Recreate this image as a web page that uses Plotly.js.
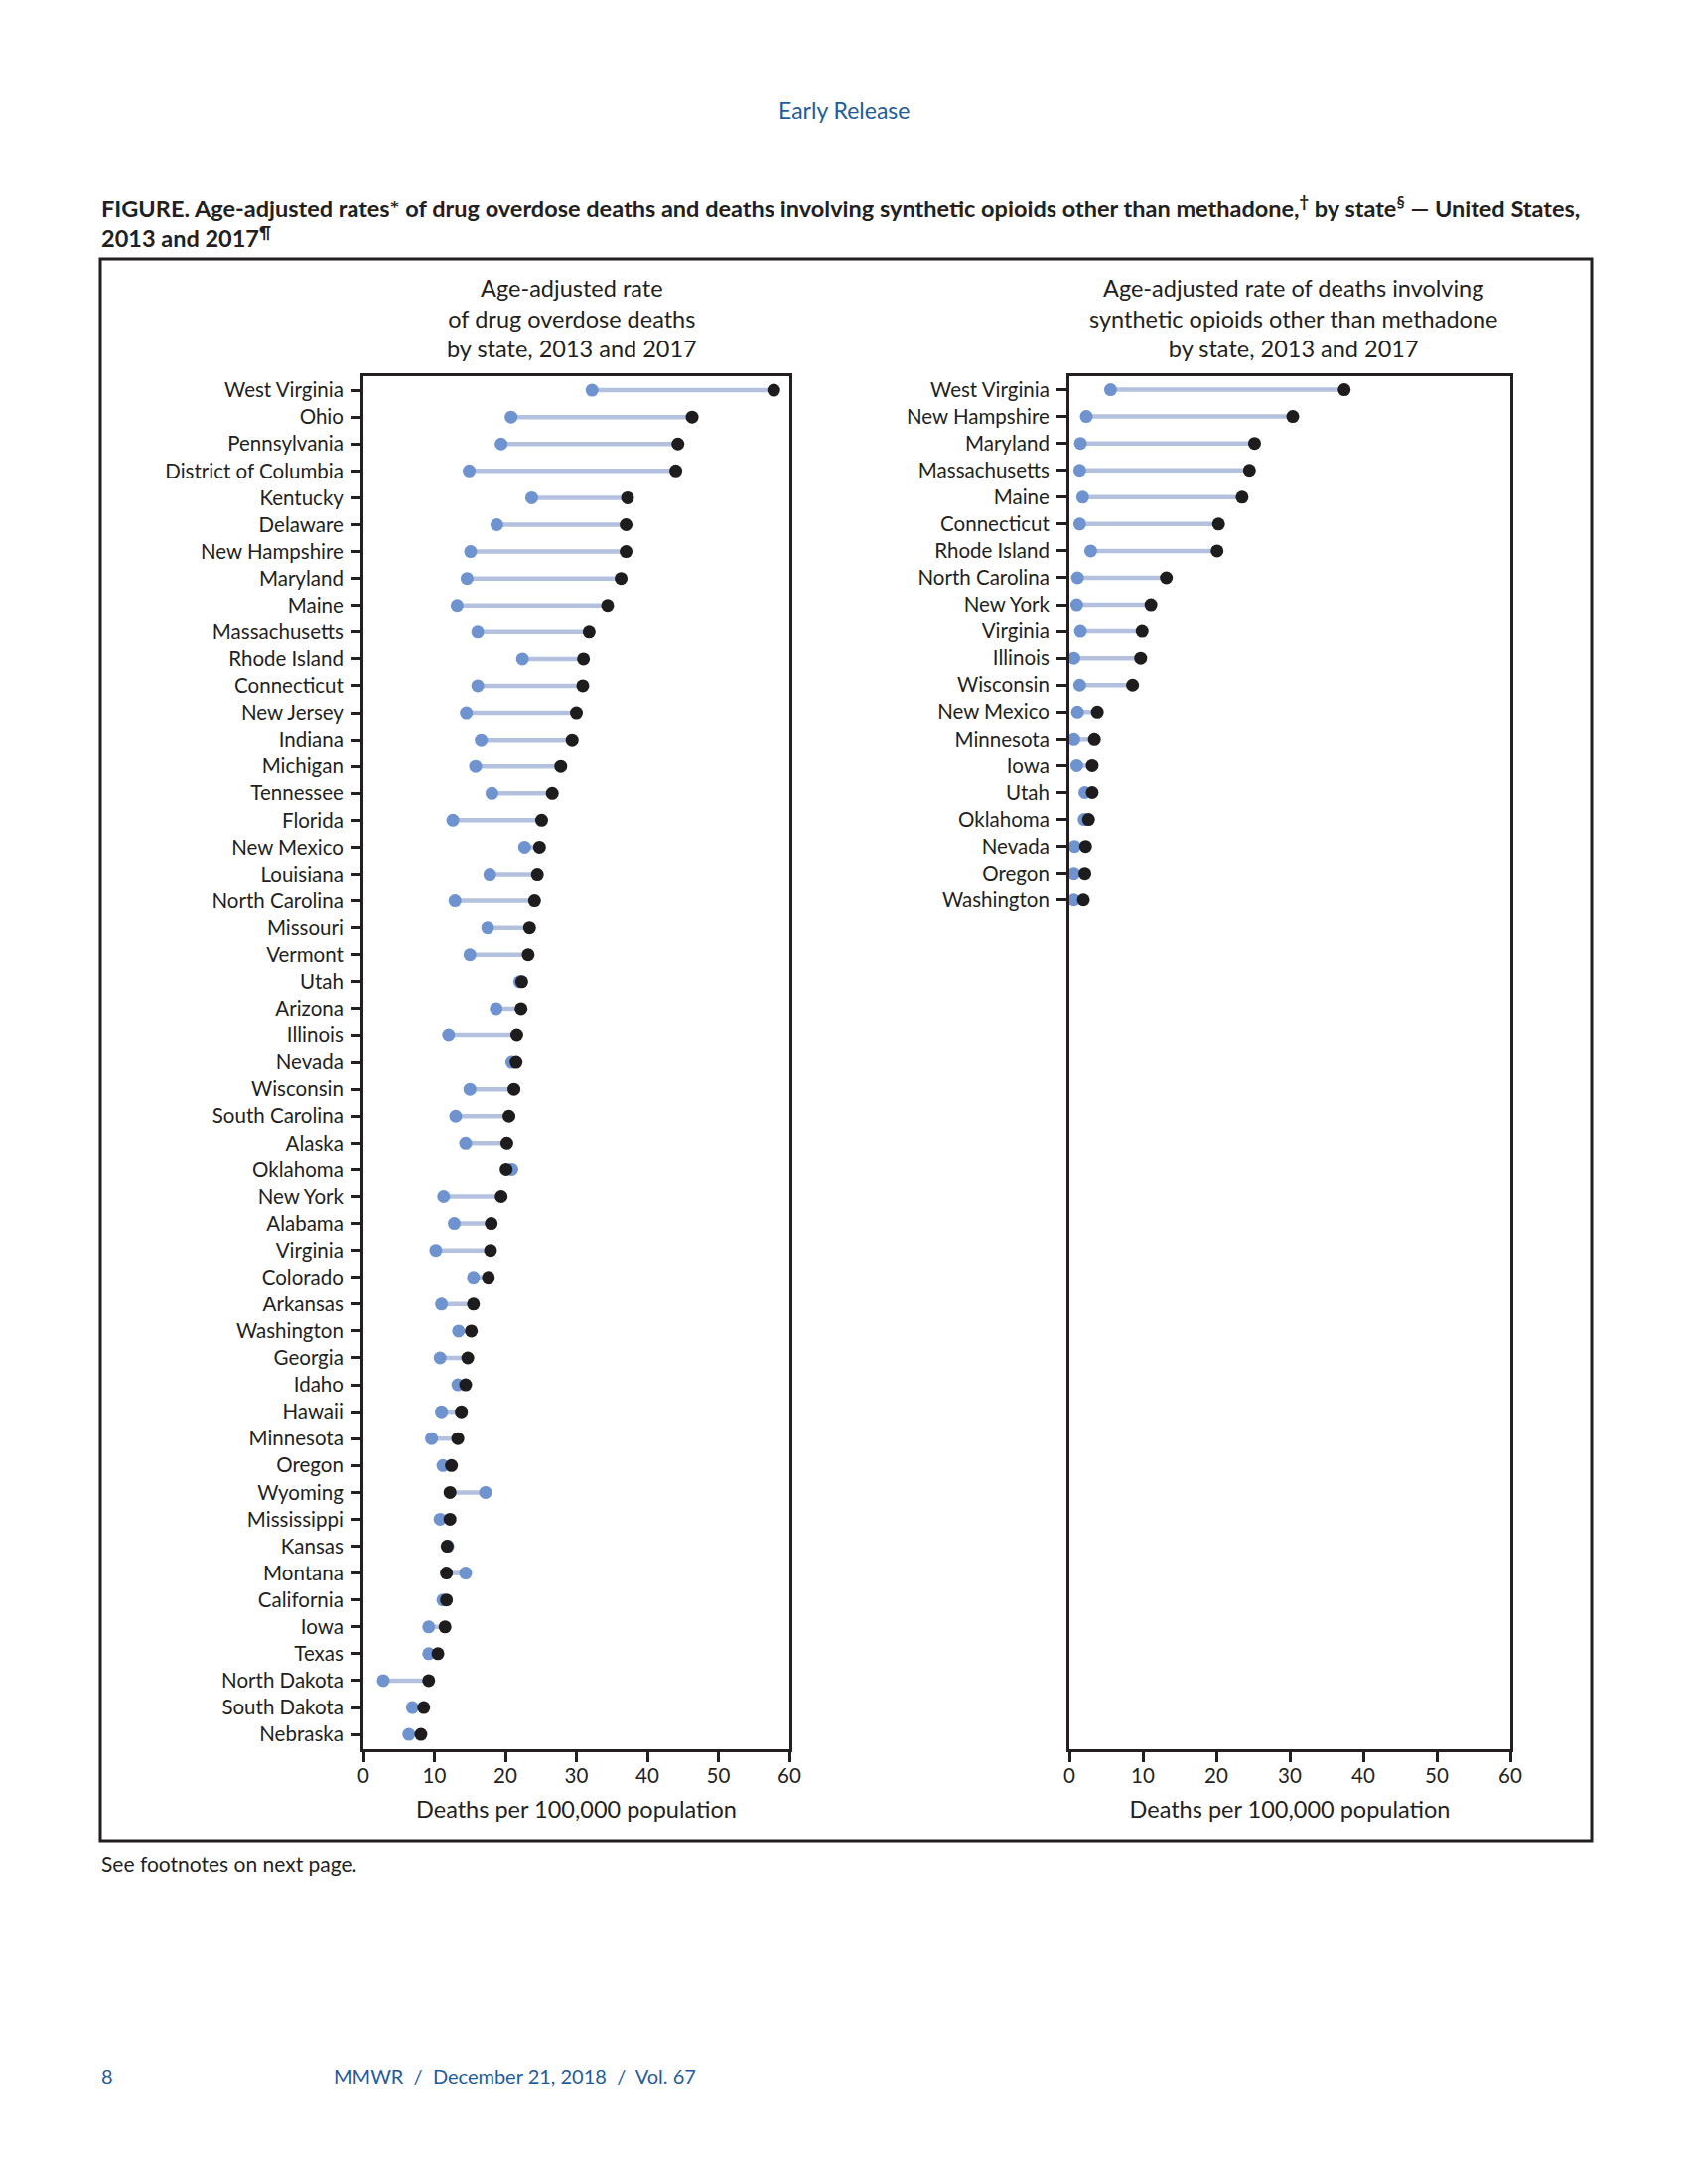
<!DOCTYPE html>
<html>
<head>
<meta charset="utf-8">
<script src="https://cdn.plot.ly/plotly-3.0.1.min.js"></script>
<style>html,body{margin:0;padding:0;background:#fff;}#chart{width:1700px;height:2200px;}</style>
</head>
<body>
<div id="chart"></div>
<script>
// ---- Left panel: all drug overdose deaths ----
const statesAll = ["West Virginia","Ohio","Pennsylvania","District of Columbia","Kentucky","Delaware","New Hampshire","Maryland","Maine","Massachusetts","Rhode Island","Connecticut","New Jersey","Indiana","Michigan","Tennessee","Florida","New Mexico","Louisiana","North Carolina","Missouri","Vermont","Utah","Arizona","Illinois","Nevada","Wisconsin","South Carolina","Alaska","Oklahoma","New York","Alabama","Virginia","Colorado","Arkansas","Washington","Georgia","Idaho","Hawaii","Minnesota","Oregon","Wyoming","Mississippi","Kansas","Montana","California","Iowa","Texas","North Dakota","South Dakota","Nebraska"];
const all2013 = [32.2,20.8,19.4,14.9,23.7,18.8,15.1,14.6,13.2,16.1,22.4,16.1,14.5,16.6,15.8,18.1,12.6,22.7,17.8,12.9,17.5,15.0,22.0,18.7,12.0,20.9,15.0,13.0,14.4,20.9,11.3,12.8,10.2,15.5,11.0,13.4,10.8,13.3,11.0,9.6,11.2,17.2,10.8,11.9,14.4,11.2,9.2,9.2,2.8,6.9,6.4];
const all2017 = [57.8,46.3,44.3,44.0,37.2,37.0,37.0,36.3,34.4,31.8,31.0,30.9,30.0,29.4,27.8,26.6,25.1,24.8,24.5,24.1,23.4,23.2,22.3,22.2,21.6,21.5,21.2,20.5,20.2,20.1,19.4,18.0,17.9,17.6,15.5,15.2,14.7,14.4,13.8,13.3,12.4,12.2,12.2,11.8,11.7,11.7,11.5,10.5,9.2,8.5,8.1];

// ---- Right panel: synthetic opioids other than methadone ----
const statesSyn = ["West Virginia","New Hampshire","Maryland","Massachusetts","Maine","Connecticut","Rhode Island","North Carolina","New York","Virginia","Illinois","Wisconsin","New Mexico","Minnesota","Iowa","Utah","Oklahoma","Nevada","Oregon","Washington"];
const syn2013 = [5.6,2.3,1.5,1.4,1.8,1.4,2.9,1.1,1.0,1.5,0.6,1.4,1.1,0.6,1.0,2.1,2.0,0.7,0.6,0.6];
const syn2017 = [37.4,30.4,25.2,24.5,23.5,20.3,20.1,13.2,11.1,9.9,9.7,8.6,3.8,3.4,3.1,3.1,2.6,2.2,2.1,1.9];

const xTicks = [0,10,20,30,40,50,60];
const xTitle = "Deaths per 100,000 population";

const C_BLUE = "#6f93cf", C_LINE = "#b3c1df", C_BLACK = "#1e1c1d", C_INK = "#231f20", C_HEAD = "#1f5c99";
const FONT = "Lato, 'Open Sans', sans-serif";

function segs(cats, a, b) {
  const xs = [], ys = [];
  cats.forEach((c, i) => { xs.push(a[i], b[i], null); ys.push(c, c, null); });
  return {xs, ys};
}

function panelTraces(cats, a, b, xa, ya) {
  const s = segs(cats, a, b);
  return [
    {type:"scatter", mode:"lines", x:s.xs, y:s.ys, xaxis:xa, yaxis:ya,
     line:{color:C_LINE, width:4.5}, hoverinfo:"skip", showlegend:false, cliponaxis:false},
    {type:"scatter", mode:"markers", x:a, y:cats, xaxis:xa, yaxis:ya, name:"2013",
     marker:{color:C_BLUE, size:13}, showlegend:false, cliponaxis:false},
    {type:"scatter", mode:"markers", x:b, y:cats, xaxis:xa, yaxis:ya, name:"2017",
     marker:{color:C_BLACK, size:13}, showlegend:false, cliponaxis:false}
  ];
}

const data = [].concat(
  panelTraces(statesAll, all2013, all2017, "x", "y"),
  panelTraces(statesSyn, syn2013, syn2017, "x2", "y2")
);

const W = 1700, H = 2200;
const px = v => v / W;
const py = v => 1 - v / H;

function xAxis(dom) {
  return {
    domain: dom, range: [0, 60], tickvals: xTicks, ticktext: xTicks.map(String),
    showgrid: false, zeroline: false, showline: true, mirror: true,
    linecolor: C_INK, linewidth: 3, ticks: "outside", ticklen: 10, tickwidth: 3, tickcolor: C_INK,
    tickfont: {family: FONT, size: 20.5, color: C_INK}, ticklabelstandoff: -4, fixedrange: true,
    title: {text: xTitle, font: {family: FONT, size: 23.5, color: C_INK}, standoff: 16},
    automargin: false
  };
}
function yAxis(cats, rng, anchor) {
  return {
    domain: [py(1762), py(379)], type: "category", categoryorder: "array", categoryarray: cats,
    range: rng, anchor: anchor,
    showgrid: false, zeroline: false, showline: true, mirror: true,
    linecolor: C_INK, linewidth: 3, ticks: "outside", ticklen: 10, tickwidth: 3, tickcolor: C_INK,
    tickfont: {family: FONT, size: 20.5, color: C_INK}, ticklabelstandoff: 3, fixedrange: true,
    automargin: false
  };
}

const layout = {
  width: W, height: H, margin: {l:0, r:0, t:0, b:0}, paper_bgcolor: "#fff", plot_bgcolor: "#fff",
  showlegend: false, font: {family: FONT, color: C_INK},
  xaxis: Object.assign(xAxis([px(366), px(795)]), {anchor: "y"}),
  yaxis: yAxis(statesAll, [50.55, -0.52], "x"),
  xaxis2: Object.assign(xAxis([px(1077), px(1521)]), {anchor: "y2"}),
  yaxis2: yAxis(statesSyn, [50.6, -0.5], "x2"),
  shapes: [
    {type: "rect", xref: "paper", yref: "paper", x0: px(101), x1: px(1603), y0: py(1854), y1: py(261),
     line: {color: C_INK, width: 3}, fillcolor: "rgba(0,0,0,0)", layer: "below"}
  ],
  annotations: [
    {xref:"paper", yref:"paper", x: px(850), y: py(111), xanchor:"center", yanchor:"middle", showarrow:false,
     text:"Early Release", font:{family: FONT, size: 23, color: C_HEAD}},
    {xref:"paper", yref:"paper", x: px(100), y: py(224), xanchor:"left", yanchor:"middle", showarrow:false, align:"left",
     text:"<b>FIGURE. Age-adjusted rates* of drug overdose deaths and deaths involving synthetic opioids other than methadone,<sup>†</sup> by state<sup>§</sup> — United States,<br>2013 and 2017<sup>¶</sup></b>",
     font:{family: FONT, size: 23.5, color: C_INK}},
    {xref:"paper", yref:"paper", x: px(576), y: py(320), xanchor:"center", yanchor:"middle", showarrow:false,
     text:"Age-adjusted rate<br>of drug overdose deaths<br>by state, 2013 and 2017",
     font:{family: FONT, size: 23.5, color: C_INK}},
    {xref:"paper", yref:"paper", x: px(1302), y: py(320), xanchor:"center", yanchor:"middle", showarrow:false,
     text:"Age-adjusted rate of deaths involving<br>synthetic opioids other than methadone<br>by state, 2013 and 2017",
     font:{family: FONT, size: 23.5, color: C_INK}},
    {xref:"paper", yref:"paper", x: px(100), y: py(1877), xanchor:"left", yanchor:"middle", showarrow:false,
     text:"See footnotes on next page.", font:{family: FONT, size: 21, color: C_INK}},
    {xref:"paper", yref:"paper", x: px(100), y: py(2091), xanchor:"left", yanchor:"middle", showarrow:false,
     text:"8", font:{family: FONT, size: 20, color: C_HEAD}},
    {xref:"paper", yref:"paper", x: px(334), y: py(2091), xanchor:"left", yanchor:"middle", showarrow:false,
     text:"MMWR  /  December 21, 2018  /  Vol. 67", font:{family: FONT, size: 20, color: C_HEAD}}
  ]
};

Plotly.newPlot("chart", data, layout, {staticPlot: true, displayModeBar: false});
</script>
</body>
</html>
